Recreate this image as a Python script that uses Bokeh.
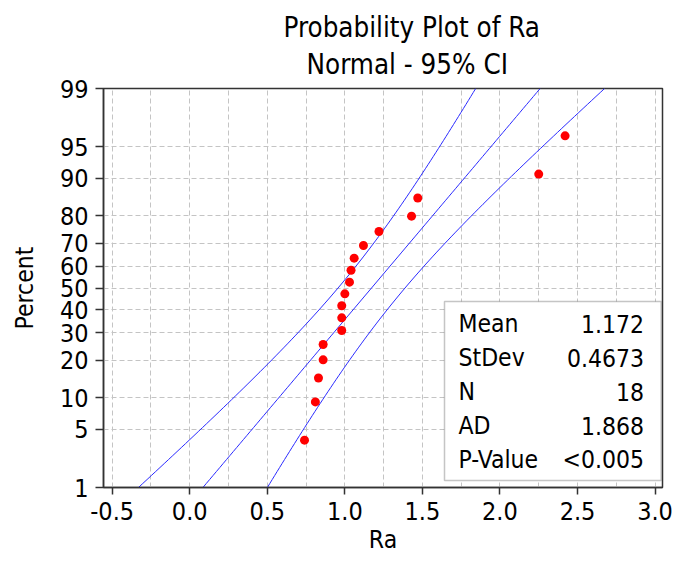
import math
import numpy as np
from bokeh.plotting import figure
from bokeh.models import (Range1d, FixedTicker, PrintfTickFormatter,
                          CustomJSTickFormatter, Label, BoxAnnotation, ColumnDataSource, Title)
from bokeh.embed import file_html
from bokeh.resources import INLINE

# ---------------- data ----------------
ra = [0.74, 0.81, 0.83, 0.86, 0.86, 0.98, 0.98, 0.98, 1.00,
      1.03, 1.04, 1.06, 1.12, 1.22, 1.43, 1.47, 2.25, 2.42]
percent = [3.8, 9.2, 14.7, 20.1, 25.5, 31.0, 36.4, 41.8, 47.3,
           52.7, 58.2, 63.6, 69.0, 74.5, 79.9, 85.3, 90.8, 96.2]
y_tick_percent = [1, 5, 10, 20, 30, 40, 50, 60, 70, 80, 90, 95, 99]
x_ticks = [-0.5, 0.0, 0.5, 1.0, 1.5, 2.0, 2.5, 3.0]
x_grid = [-0.5, -0.25, 0.0, 0.25, 0.5, 0.75, 1.0, 1.25, 1.5, 1.75,
          2.0, 2.25, 2.5, 2.75, 3.0]
stat_names = ["Mean", "StDev", "N", "AD", "P-Value"]
stat_values = ["1.172", "0.4673", "18", "1.868", "<0.005"]
mean, stdev, n = 1.172, 0.4673, 18
conf = 0.95

FONT = "DejaVu Sans Condensed"


def norm_ppf(p):
    lo, hi = -10.0, 10.0
    for _ in range(200):
        mid = 0.5 * (lo + hi)
        if 0.5 * (1 + math.erf(mid / math.sqrt(2))) < p:
            lo = mid
        else:
            hi = mid
    return 0.5 * (lo + hi)


y_z = [norm_ppf(v / 100.0) for v in percent]
tick_z = [norm_ppf(v / 100.0) for v in y_tick_percent]
z_lo, z_hi = norm_ppf(0.01), norm_ppf(0.99)
z_crit = norm_ppf(1 - (1 - conf) / 2)

zz = np.linspace(z_lo, z_hi, 101)
fit = mean + stdev * zz
half = z_crit * stdev * np.sqrt(1.0 / n + zz ** 2 / (2.0 * n))

# ---------------- layout ----------------
W, H = 691, 560
BL, BT, BB = 103, 88, 73
FW = 559
BR = W - BL - FW
FH = H - BT - BB
XL, XR = -0.556, 3.048


def cx(px):
    return XL + (px - BL) / FW * (XR - XL)


def cy(py):
    return z_hi - (py - BT) / FH * (z_hi - z_lo)


p = figure(width=W, height=H, output_backend="svg", toolbar_location=None,
           x_range=Range1d(XL, XR), y_range=Range1d(z_lo, z_hi),
           min_border_left=BL, min_border_right=BR,
           min_border_top=BT, min_border_bottom=BB)
p.title = None
p.background_fill_color = "white"
p.border_fill_color = "white"
p.outline_line_color = "#333333"
p.outline_line_width = 1.5

# titles (first added sits closest to the frame)
p.add_layout(Title(text="Normal - 95% CI", align="left", offset=203, standoff=17.6,
                   text_font=FONT, text_font_size="27.5px", text_font_style="normal",
                   text_color="black"), "above")
p.add_layout(Title(text="Probability Plot of Ra", align="left", offset=180, standoff=-12.2,
                   text_font=FONT, text_font_size="27.5px", text_font_style="normal",
                   text_color="black"), "above")
p.add_layout(Title(text=" ", align="left", standoff=1,
                   text_font=FONT, text_font_size="10px", text_font_style="normal",
                   text_color="white"), "above")

# axes
p.xaxis.ticker = FixedTicker(ticks=x_ticks)
p.xaxis.formatter = PrintfTickFormatter(format="%.1f")
p.yaxis.ticker = FixedTicker(ticks=tick_z)
p.yaxis.formatter = CustomJSTickFormatter(
    args=dict(zs=tick_z, labs=[str(v) for v in y_tick_percent]),
    code="""
let best = 0;
for (let i = 0; i < zs.length; i++) {
  if (Math.abs(zs[i] - tick) < Math.abs(zs[best] - tick)) best = i;
}
return labs[best];
""")
for ax in (p.xaxis[0], p.yaxis[0]):
    ax.axis_line_color = "#333333"
    ax.axis_line_width = 1.5
    ax.major_tick_line_color = "#333333"
    ax.major_tick_line_width = 1.5
    ax.major_tick_in = 0
    ax.minor_tick_line_color = None
    ax.minor_tick_out = 0
    ax.major_label_text_font = FONT
    ax.major_label_text_font_size = "25px"
    ax.major_label_text_color = "black"
    ax.axis_label_text_font = FONT
    ax.axis_label_text_font_size = "24.5px"
    ax.axis_label_text_font_style = "normal"
    ax.axis_label_text_color = "black"
p.xaxis.axis_label = "Ra"
p.yaxis.axis_label = "Percent"
p.xaxis.major_tick_out = 7
p.yaxis.major_tick_out = 8
p.xaxis.major_label_standoff = 7
p.yaxis.major_label_standoff = 7
p.xaxis.axis_label_standoff = 2
p.yaxis.axis_label_standoff = 18

# grids
p.xgrid.ticker = FixedTicker(ticks=x_grid)
for g in (p.xgrid[0], p.ygrid[0]):
    g.grid_line_color = "#c4c4c4"
    g.grid_line_dash = "5 3"
    g.grid_line_width = 1

# fitted line and CI
src = ColumnDataSource(dict(z=zz, fit=fit, lo=fit - half, hi=fit + half))
for col in ("lo", "fit", "hi"):
    p.line(x=col, y="z", source=src, line_color="#2a2aff", line_width=1)

# points
p.scatter(x=ra, y=y_z, size=9, fill_color="#ff0000", line_color=None)

# stats box
p.add_layout(BoxAnnotation(left=cx(444), right=cx(660.7), top=cy(301), bottom=cy(480),
                           fill_color="white", fill_alpha=1.0,
                           line_color="#404040", line_width=1.5))
for i, (nm, vl) in enumerate(zip(stat_names, stat_values)):
    mid = 323 + i * 34.1
    p.add_layout(Label(x=cx(458), y=cy(mid), text=nm, text_font=FONT,
                       text_font_size="24.5px", text_align="left",
                       text_baseline="alphabetic", text_color="black"))
    p.add_layout(Label(x=cx(643.5), y=cy(mid), text=vl, text_font=FONT,
                       text_font_size="24.5px", text_align="right",
                       text_baseline="alphabetic", text_color="black"))

open("out.html", "w").write(file_html(p, INLINE))
